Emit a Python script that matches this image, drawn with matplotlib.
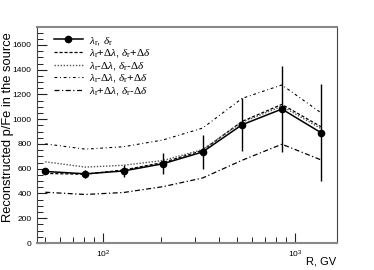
import matplotlib
matplotlib.use("Agg")
import matplotlib.pyplot as plt
from matplotlib.lines import Line2D
from matplotlib.ticker import LogLocator, MultipleLocator, NullFormatter

plt.rcParams['font.family'] = ['Liberation Sans', 'DejaVu Sans']
plt.rcParams['mathtext.fontset'] = 'custom'
plt.rcParams['mathtext.rm'] = 'Liberation Serif'
plt.rcParams['mathtext.it'] = 'Liberation Serif:italic'

# rigidity, GV
rigidity = [50, 81, 128, 205, 330, 530, 855, 1365]

# reconstructed p/Fe, central parameters
ratio = [578, 559, 582, 640, 735, 955, 1082, 892]
ratio_err = [15, 30, 47, 85, 135, 215, 350, 395]

# parameter variations
plus_plus = [562, 555, 590, 650, 748, 982, 1120, 940]
minus_minus = [656, 613, 628, 666, 755, 975, 1105, 925]
minus_plus = [801, 758, 778, 832, 928, 1168, 1277, 1053]
plus_minus = [410, 392, 408, 455, 525, 668, 798, 672]

labels = [r'$\lambda_{\mathrm{r}}$, $\delta_{\mathrm{r}}$',
          r'$\lambda_{\mathrm{r}}$+$\Delta\lambda$, $\delta_{\mathrm{r}}$+$\Delta\delta$',
          r'$\lambda_{\mathrm{r}}$-$\Delta\lambda$, $\delta_{\mathrm{r}}$-$\Delta\delta$',
          r'$\lambda_{\mathrm{r}}$-$\Delta\lambda$, $\delta_{\mathrm{r}}$+$\Delta\delta$',
          r'$\lambda_{\mathrm{r}}$+$\Delta\lambda$, $\delta_{\mathrm{r}}$-$\Delta\delta$']

fig = plt.figure(figsize=(3.74, 2.70), dpi=100)
ax = fig.add_axes([0.099, 0.1, 0.802, 0.8])

ax.errorbar(rigidity, ratio, yerr=ratio_err, color='black', lw=1.1,
            marker='o', ms=4.5, elinewidth=1.0, capsize=0, zorder=5)
h0 = Line2D([], [], color='black', lw=1.1, marker='o', ms=4.5)
h1, = ax.plot(rigidity, plus_plus, color='black', lw=0.9, dashes=(2.5, 1.5))
h2, = ax.plot(rigidity, minus_minus, color='#555555', lw=1.0, dashes=(1, 1.2))
h3, = ax.plot(rigidity, minus_plus, color='black', lw=0.8, dashes=(2.5, 2.5, 0.8, 2.5))
h4, = ax.plot(rigidity, plus_minus, color='black', lw=0.9, dashes=(4, 2, 1, 2))

ax.set_xscale('log')
ax.set_xlim(45.3, 1656)
ax.set_ylim(0, 1745)
ax.yaxis.set_major_locator(MultipleLocator(200))
ax.yaxis.set_minor_locator(MultipleLocator(50))
ax.xaxis.set_major_locator(LogLocator(base=10))
ax.xaxis.set_minor_locator(LogLocator(base=10, subs=range(2, 10)))
ax.xaxis.set_minor_formatter(NullFormatter())

ax.tick_params(which='both', direction='in', labelsize=6, top=False, right=False, color='#222222')
ax.tick_params(which='major', length=7, width=0.8)
ax.tick_params(which='minor', length=4, width=0.7)
ax.tick_params(axis='y', which='major', pad=4)
ax.tick_params(axis='x', which='major', labelsize=6, pad=4)

for side in ['bottom', 'top']:
    ax.spines[side].set_color('#888888')
    ax.spines[side].set_linewidth(1.5)
for side in ['left', 'right']:
    ax.spines[side].set_color('#444444')
    ax.spines[side].set_linewidth(0.8)

fig.text(8 / 374, 1 - 127 / 270, 'Reconstructed p/Fe in the source', rotation=90,
         ha='center', va='center', fontsize=9.3)
fig.text(336.5 / 374, 1 - 257 / 270, 'R, GV', ha='right', va='top', fontsize=8)

ax.legend([h0, h1, h2, h3, h4], labels, loc='upper left',
          bbox_to_anchor=(0.03, 1.0), frameon=False,
          fontsize=8, handlelength=2.6, handletextpad=0.55,
          labelspacing=0.05, borderaxespad=0.3)

fig.savefig('out.png', dpi=100)
